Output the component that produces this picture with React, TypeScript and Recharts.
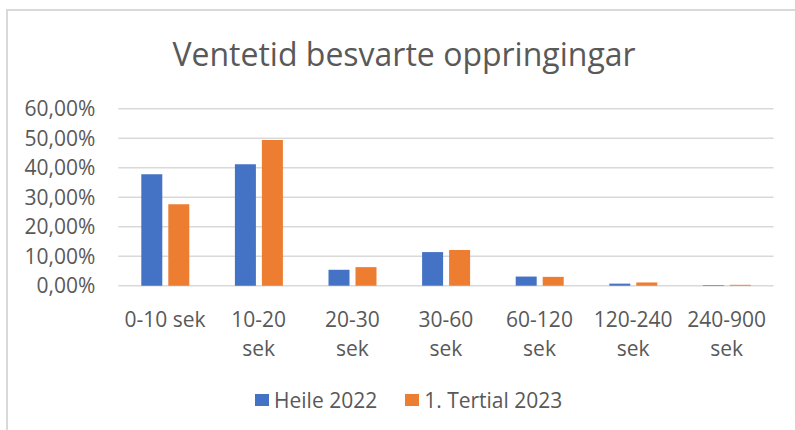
import React from "react";
import { BarChart, Bar, XAxis, YAxis, CartesianGrid, Legend } from "recharts";

const categories = ["0-10 sek", "10-20 sek", "20-30 sek", "30-60 sek", "60-120 sek", "120-240 sek", "240-900 sek"];
const heile2022 = [0.378, 0.412, 0.054, 0.114, 0.031, 0.007, 0.002];
const tertial2023 = [0.276, 0.494, 0.063, 0.121, 0.030, 0.011, 0.003];
const yTicks = [0, 0.1, 0.2, 0.3, 0.4, 0.5, 0.6];
const seriesNames = ["Heile 2022", "1. Tertial 2023"];
const seriesColors = ["#4472C4", "#ED7D31"];
const title = "Ventetid besvarte oppringingar";

const data = categories.map((c, i) => ({ name: c, a: heile2022[i], b: tertial2023[i] }));

const FONT = "'Open Sans', sans-serif";
const TEXT = "#595959";

const fmtPct = (v: number) => (v * 100).toFixed(2).replace(".", ",") + "%";

const XTick = (props: any) => {
  const { x, y, payload } = props;
  const label: string = payload.value;
  let lines: string[] = [label];
  if (label.length > 8) {
    const idx = label.lastIndexOf(" ");
    lines = [label.slice(0, idx), label.slice(idx + 1)];
  }
  return (
    <text x={x} y={y + 39.5} textAnchor="middle" fill={TEXT} fontFamily={FONT} fontSize={21}>
      {lines.map((l, i) => (
        <tspan key={i} x={x} dy={i === 0 ? 0 : 28.5}>
          {l}
        </tspan>
      ))}
    </text>
  );
};

const LegendContent = () => (
  <div style={{ display: "flex", alignItems: "center", height: 40, paddingLeft: 255, fontFamily: FONT, fontSize: 21, color: TEXT }}>
    {seriesNames.map((n, i) => (
      <div key={n} style={{ display: "flex", alignItems: "center", marginRight: 28 }}>
        <div style={{ width: 14, height: 12, background: seriesColors[i], marginRight: 5 }} />
        <span style={{ whiteSpace: "nowrap" }}>{n}</span>
      </div>
    ))}
  </div>
);

export default function App() {
  return (
    <div style={{ position: "fixed", left: 0, top: 0, width: 795, height: 430, overflow: "hidden", background: "#fff" }}>
      <div style={{ position: "absolute", left: 6, top: 9, width: 800, height: 440, border: "2px solid #d9d9d9", boxSizing: "border-box" }} />
      <div style={{ position: "absolute", left: 0, top: 0 }}>
        <BarChart
          width={795}
          height={430}
          data={data}
          margin={{ top: 108.8, right: 21.5, left: 0, bottom: 10 }}
          barSize={21}
          barGap={6}
        >
          <text x={404} y={65.7} textAnchor="middle" fill={TEXT} fontFamily={FONT} fontSize={32}>
            {title}
          </text>
          <CartesianGrid vertical={false} stroke="#d9d9d9" strokeWidth={1.5} />
          <XAxis dataKey="name" axisLine={false} tickLine={false} tickSize={0} height={94.3} tick={<XTick />} interval={0} />
          <YAxis
            domain={[0, 0.6]}
            ticks={yTicks}
            tickFormatter={fmtPct}
            axisLine={false}
            tickLine={false}
            tickSize={0}
            tickMargin={23}
            width={118.3}
            tick={{ fill: TEXT, fontFamily: FONT, fontSize: 21 }}
            interval={0}
          />
          <Legend verticalAlign="bottom" height={40} content={<LegendContent />} />
          <Bar dataKey="a" name={seriesNames[0]} fill={seriesColors[0]} isAnimationActive={false} />
          <Bar dataKey="b" name={seriesNames[1]} fill={seriesColors[1]} isAnimationActive={false} />
        </BarChart>
      </div>
    </div>
  );
}
